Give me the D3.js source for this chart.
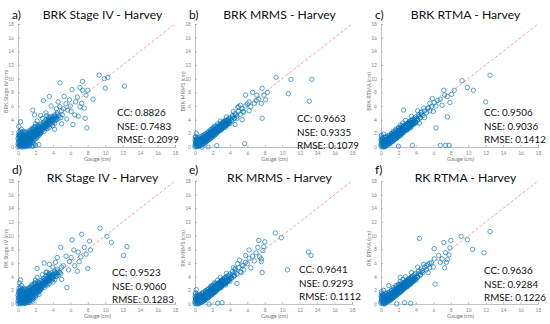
<!DOCTYPE html>
<html>
<head>
<meta charset="utf-8">
<script src="https://cdn.jsdelivr.net/npm/d3@7/dist/d3.min.js"></script>
<style>
  body { margin: 0; background: #fff; }
  svg { display: block; }
</style>
</head>
<body>
<svg id="chart" width="550" height="324"></svg>
<script>
// panel titles / labels
const letters = ["a)", "b)", "c)", "d)", "e)", "f)"];
const titles = ["BRK Stage IV - Harvey", "BRK MRMS - Harvey", "BRK RTMA - Harvey",
                "RK Stage IV - Harvey", "RK MRMS - Harvey", "RK RTMA - Harvey"];
const yLabels = ["BRK Stage IV (cm)", "BRK MRMS (cm)", "BRK RTMA (cm)",
                 "RK Stage IV (cm)", "RK MRMS (cm)", "RK RTMA (cm)"];
const ccVals = ["0.8826", "0.9663", "0.9506", "0.9523", "0.9641", "0.9636"];
const nseVals = ["0.7483", "0.9335", "0.9036", "0.9060", "0.9293", "0.9284"];
const rmseVals = ["0.2099", "0.1079", "0.1412", "0.1283", "0.1112", "0.1226"];
const axisTicks = [0, 2, 4, 6, 8, 10, 12, 14, 16, 18];

// [gauge, estimate] pairs
// dense part near the origin (the solid blob in the picture)
const brkStage4Core = [
  [0,0],[0,0.45],[0.05,0.85],[0,1.25],[0.05,1.7],[0.1,2.2],
  [0.2,0.05],[0.2,0.35],[0.25,0.65],[0.2,0.95],[0.25,1.25],[0.2,1.55],[0.25,1.85],
  [0.4,0.1],[0.45,0.45],[0.4,0.75],[0.45,1.05],[0.4,1.35],[0.45,1.7],[0.4,2.1],
  [0.6,0.2],[0.65,0.5],[0.6,0.85],[0.65,1.15],[0.6,1.45],[0.65,1.8],[0.6,2.3],
  [0.8,0.05],[0.85,0.35],[0.8,0.65],[0.85,0.95],[0.8,1.25],[0.85,1.55],[0.8,1.9],
  [1.0,0.2],[1.05,0.55],[1.0,0.85],[1.05,1.15],[1.0,1.45],[1.05,1.75],[1.0,2.05],
  [1.2,0.1],[1.25,0.45],[1.2,0.75],[1.25,1.05],[1.2,1.35],[1.25,1.65],[1.2,1.95],[1.25,2.3],
  [1.4,0.35],[1.45,0.85],[1.4,1.15],[1.45,1.45],[1.4,1.75],[1.45,2.05],[1.4,2.45],
  [1.6,0.15],[1.65,0.65],[1.6,1.25],[1.65,1.55],[1.6,1.85],[1.65,2.15],[1.6,2.6],
  [1.8,0.45],[1.85,1.05],[1.8,1.45],[1.85,1.75],[1.8,2.05],[1.85,2.35],[1.8,2.8],
  [2.0,0.25],[2.05,1.25],[2.0,1.65],[2.05,1.95],[2.0,2.25],[2.05,2.55],[2.0,3.0],
  [2.2,1.45],[2.25,1.85],[2.2,2.15],[2.25,2.45],[2.2,2.75],[2.25,3.2],
  [2.4,0.35],[2.45,1.75],[2.4,2.05],[2.45,2.35],[2.4,2.65],[2.45,2.95],
  [2.6,2.2],[2.65,2.7],[2.8,2.5],[2.85,3.4],[3.0,3.0],[3.05,3.7],[3.2,2.7],[3.25,3.3],[3.4,3.5],[3.45,4.1],
  [3.6,3.7],[3.65,4.4],[3.8,3.3],[3.85,4.0],[4.0,4.3],[4.05,3.9],[4.2,3.5],[4.25,4.5],[4.4,4.0],[4.5,4.8],
  [2.7,3.0],[3.1,3.2],[3.5,3.9],[3.9,4.1],[4.3,4.2]
];
const brkStage4Fill = [
  [0.1,0.2],[0.1,0.6],[0.1,1.0],[0.1,1.45],[0.15,1.9],
  [0.3,0.2],[0.3,0.5],[0.3,0.8],[0.3,1.1],[0.35,1.4],[0.3,1.7],[0.3,2.3],
  [0.5,0.0],[0.5,0.3],[0.5,0.6],[0.5,0.95],[0.55,1.25],[0.5,1.55],[0.5,1.95],
  [0.7,0.1],[0.7,0.4],[0.7,0.7],[0.7,1.0],[0.75,1.3],[0.7,1.65],[0.7,2.1],
  [0.9,0.25],[0.9,0.5],[0.9,0.8],[0.9,1.1],[0.95,1.4],[0.9,1.7],[0.9,2.2],
  [1.1,0.35],[1.1,0.65],[1.1,0.95],[1.1,1.3],[1.15,1.6],[1.1,1.9],
  [1.3,0.6],[1.3,0.9],[1.3,1.2],[1.35,1.5],[1.3,1.8],[1.3,2.15],
  [1.5,0.7],[1.5,1.05],[1.5,1.35],[1.55,1.65],[1.5,1.95],[1.5,2.3],
  [1.7,1.0],[1.7,1.35],[1.75,1.65],[1.7,1.95],[1.7,2.3],
  [1.9,1.3],[1.9,1.6],[1.95,1.9],[1.9,2.2],[1.9,2.6],
  [2.1,1.6],[2.1,1.9],[2.15,2.3],[2.1,2.6],[2.3,1.9],[2.3,2.2],[2.35,2.5],[2.3,2.9],
  [2.5,2.0],[2.5,2.4],[2.55,2.8],[2.7,2.3],[2.7,2.7],[2.9,2.6],[2.9,3.0],[3.1,2.9],[3.1,3.3],
  [3.3,3.0],[3.3,3.5],[3.5,3.3],[3.5,3.7],[3.7,3.5],[3.7,3.9],[3.9,3.8]
];
const brkStage4 = [
  [0.9,0.1],[1.3,0.2],[1.7,0.15],[0.4,2.6],[0.1,3.0],
  [2.3,2.2],[2.4,3.0],[2.5,2.6],[2.6,3.3],[2.7,2.4],[2.8,3.1],[2.9,3.6],[3.0,2.8],[3.1,3.4],[3.2,4.0],
  [3.3,3.1],[3.4,3.7],[3.5,4.3],[3.6,3.4],[3.7,4.1],[3.8,3.8],[3.9,4.5],[4.0,3.6],[4.1,4.2],[4.2,4.7],
  [4.3,3.9],[4.4,4.4],[4.5,5.0],[4.6,4.1],[2.0,3.4],[2.3,1.6],[2.6,2.0],[3.0,2.3],[3.4,2.7],[1.6,2.7],
  [1.9,3.0],[2.2,3.8],[2.8,4.2],[3.3,4.6],[4.7,4.6],[4.9,4.3],[5.0,5.3],[3.6,2.9],[4.0,3.1],[2.4,2.5],
  [4.8,9.4],[9.3,10.5],[9.9,10.0],[10.3,10.2],[12.2,8.9],[10.0,8.6],[7.4,8.3],[2.9,6.8],[0.3,3.7],[5.9,6.9],
  [5.3,7.4],[6.2,8.4],[7.4,9.6],[7.1,8.7],[8.0,8.3],[7.8,7.6],[8.6,7.0],[7.6,5.7],[7.7,4.2],[7.9,2.8],
  [6.5,4.7],[6.9,4.5],[7.1,5.9],[4.8,5.9],[3.6,7.4],[3.8,6.0],[5.7,5.4],[6.3,3.3],[5.1,4.7],[1.7,5.4],
  [1.9,4.7],[5.5,6.3],[6.0,6.0],[6.6,6.6],[5.2,5.6],[4.4,5.6],[6.8,7.3],[5.0,3.4],[4.2,2.6],[5.6,4.1],
  [6.1,5.2],[7.3,6.4],[4.6,6.6],[3.2,5.0],[2.6,4.6]
];

const brkMrmsCore = [
  [0,0],[0,0.3],[0.05,0.65],[0,1.0],[0.05,1.4],
  [0.2,0.05],[0.25,0.35],[0.2,0.65],[0.25,0.95],[0.2,1.3],
  [0.4,0.1],[0.45,0.4],[0.4,0.7],[0.45,1.0],[0.4,1.35],
  [0.6,0.25],[0.65,0.55],[0.6,0.85],[0.65,1.15],[0.6,1.5],
  [0.8,0.35],[0.85,0.65],[0.8,0.95],[0.85,1.25],[0.8,1.6],
  [1.0,0.5],[1.05,0.8],[1.0,1.1],[1.05,1.4],[1.0,1.75],
  [1.2,0.7],[1.25,1.0],[1.2,1.3],[1.25,1.6],[1.2,1.95],
  [1.4,0.9],[1.45,1.2],[1.4,1.5],[1.45,1.8],[1.4,2.1],
  [1.6,1.1],[1.65,1.4],[1.6,1.7],[1.65,2.0],[1.6,2.3],
  [1.8,1.3],[1.85,1.6],[1.8,1.9],[1.85,2.2],[1.8,2.5],
  [2.0,1.5],[2.05,1.8],[2.0,2.1],[2.05,2.4],[2.0,2.7],
  [2.2,1.7],[2.25,2.0],[2.2,2.3],[2.25,2.6],[2.2,2.9],
  [2.4,1.9],[2.45,2.2],[2.4,2.5],[2.45,2.8],[2.4,3.1],
  [2.6,2.2],[2.65,2.5],[2.6,2.8],[2.65,3.1],[2.8,2.4],[2.85,2.7],[2.8,3.0],[2.85,3.3],
  [3.0,2.6],[3.05,2.9],[3.0,3.2],[3.05,3.5],[3.2,2.8],[3.25,3.1],[3.2,3.4],[3.25,3.7],
  [3.4,3.0],[3.45,3.3],[3.4,3.6],[3.45,3.9],[3.6,3.2],[3.65,3.5],[3.6,3.8],[3.8,3.4],
  [3.85,3.9],[4.0,3.7],[4.05,4.1],[4.2,3.9],[4.3,4.4],[4.5,4.2],[4.6,4.7]
];
const brkMrmsFill = [
  [0.1,0.15],[0.1,0.5],[0.1,0.85],[0.15,1.2],[0.3,0.2],[0.3,0.5],[0.3,0.8],[0.35,1.15],
  [0.5,0.15],[0.5,0.45],[0.5,0.75],[0.55,1.1],[0.7,0.35],[0.7,0.65],[0.7,0.95],[0.75,1.3],
  [0.9,0.45],[0.9,0.75],[0.9,1.05],[0.95,1.35],[1.1,0.6],[1.1,0.9],[1.1,1.2],[1.15,1.5],
  [1.3,0.8],[1.3,1.1],[1.3,1.4],[1.35,1.7],[1.5,1.0],[1.5,1.3],[1.5,1.6],[1.55,1.9],
  [1.7,1.2],[1.7,1.5],[1.7,1.8],[1.75,2.1],[1.9,1.4],[1.9,1.7],[1.9,2.0],[1.95,2.3],
  [2.1,1.6],[2.1,1.9],[2.1,2.2],[2.15,2.5],[2.3,1.8],[2.3,2.1],[2.3,2.4],[2.35,2.7],
  [2.5,2.05],[2.5,2.35],[2.55,2.65],[2.7,2.3],[2.7,2.6],[2.75,2.9],[2.9,2.5],[2.9,2.8],[2.95,3.1],
  [3.1,2.7],[3.1,3.0],[3.15,3.3],[3.3,2.9],[3.3,3.2],[3.35,3.5],[3.5,3.1],[3.5,3.4],[3.7,3.3],[3.7,3.6],[3.9,3.5]
];
const brkMrms = [
  [0.1,0.7],[0.2,1.0],[0.9,1.5],[1.2,1.8],[1.5,2.1],[0.05,1.5],[0.15,2.0],[2.2,2.4],
  [2.3,2.1],[2.4,2.6],[2.5,2.3],[2.6,2.9],[2.7,2.5],[2.8,3.0],[2.9,2.7],[3.0,3.3],[3.1,2.9],[3.2,3.5],
  [3.3,3.1],[3.4,3.7],[3.5,3.3],[3.6,3.9],[3.7,3.5],[3.8,4.1],[3.9,3.7],[4.0,4.3],[4.2,3.9],[4.3,4.6],
  [4.5,4.2],[4.6,4.9],[4.8,4.5],[5.0,5.2],[5.2,4.8],[5.4,5.6],[5.6,5.1],[2.0,2.6],[2.2,3.0],[2.6,3.4],
  [3.0,2.5],[3.5,2.9],[4.0,3.4],[1.8,2.5],[2.9,3.8],[3.6,4.4],[4.4,5.2],[5.8,6.0],[6.2,6.6],[4.9,5.8],
  [9.3,10.2],[11.0,9.9],[13.4,9.9],[10.7,7.8],[13.1,6.7],[7.7,8.6],[7.1,7.6],[6.6,8.0],[8.1,6.9],[7.6,6.4],
  [5.8,7.6],[5.0,5.9],[6.4,5.9],[7.7,4.2],[5.4,4.0],[5.7,0.5],[4.6,3.3],[6.8,6.4],[7.3,7.0],[6.0,6.3],
  [5.5,5.2],[7.9,7.6],[6.2,5.3],[7.0,6.8],[5.2,6.1],[4.8,4.2],[8.3,8.0],[0.8,0.0],[1.5,0.0],[2.5,0.2]
];

const brkRtmaCore = [
  [0,0.05],[0,0.35],[0.05,0.7],[0,1.05],[0.05,1.45],
  [0.2,0.0],[0.25,0.3],[0.2,0.6],[0.25,0.9],[0.2,1.25],
  [0.4,0.15],[0.45,0.45],[0.4,0.75],[0.45,1.05],[0.4,1.4],
  [0.6,0.2],[0.65,0.5],[0.6,0.8],[0.65,1.1],[0.6,1.45],
  [0.8,0.4],[0.85,0.7],[0.8,1.0],[0.85,1.3],[0.8,1.65],
  [1.0,0.45],[1.05,0.75],[1.0,1.05],[1.05,1.35],[1.0,1.7],
  [1.2,0.75],[1.25,1.05],[1.2,1.35],[1.25,1.65],[1.2,2.0],
  [1.4,0.85],[1.45,1.15],[1.4,1.45],[1.45,1.75],[1.4,2.05],
  [1.6,1.15],[1.65,1.45],[1.6,1.75],[1.65,2.05],[1.6,2.35],
  [1.8,1.25],[1.85,1.55],[1.8,1.85],[1.85,2.15],[1.8,2.45],
  [2.0,1.55],[2.05,1.85],[2.0,2.15],[2.05,2.45],[2.0,2.75],
  [2.2,1.65],[2.25,1.95],[2.2,2.25],[2.25,2.55],[2.2,2.85],
  [2.4,1.95],[2.45,2.25],[2.4,2.55],[2.45,2.85],[2.4,3.15],
  [2.6,2.15],[2.65,2.45],[2.6,2.75],[2.65,3.05],[2.8,2.45],[2.85,2.75],[2.8,3.05],[2.85,3.35],
  [3.0,2.55],[3.05,2.85],[3.0,3.15],[3.05,3.45],[3.2,2.85],[3.25,3.15],[3.2,3.45],[3.25,3.75],
  [3.4,2.95],[3.45,3.25],[3.4,3.55],[3.45,3.85],[3.6,3.25],[3.65,3.55],[3.6,3.85],[3.8,3.45],
  [3.85,3.95],[4.0,3.65],[4.05,4.15],[4.2,3.95],[4.3,4.45],[4.5,4.25],[4.6,4.75]
];
const brkRtmaFill = [
  [0.1,0.2],[0.1,0.55],[0.1,0.9],[0.15,1.25],[0.3,0.15],[0.3,0.45],[0.3,0.75],[0.35,1.1],
  [0.5,0.1],[0.5,0.4],[0.5,0.7],[0.55,1.05],[0.7,0.3],[0.7,0.6],[0.7,0.9],[0.75,1.25],
  [0.9,0.5],[0.9,0.8],[0.9,1.1],[0.95,1.4],[1.1,0.65],[1.1,0.95],[1.1,1.25],[1.15,1.55],
  [1.3,0.85],[1.3,1.15],[1.3,1.45],[1.35,1.75],[1.5,1.05],[1.5,1.35],[1.5,1.65],[1.55,1.95],
  [1.7,1.25],[1.7,1.55],[1.7,1.85],[1.75,2.15],[1.9,1.45],[1.9,1.75],[1.9,2.05],[1.95,2.35],
  [2.1,1.65],[2.1,1.95],[2.1,2.25],[2.15,2.55],[2.3,1.85],[2.3,2.15],[2.3,2.45],[2.35,2.75],
  [2.5,2.1],[2.5,2.4],[2.55,2.7],[2.7,2.35],[2.7,2.65],[2.75,2.95],[2.9,2.55],[2.9,2.85],[2.95,3.15],
  [3.1,2.75],[3.1,3.05],[3.15,3.35],[3.3,2.95],[3.3,3.25],[3.35,3.55],[3.5,3.15],[3.5,3.45],[3.7,3.35],[3.7,3.65],[3.9,3.55]
];
const brkRtma = [
  [0.1,0.9],[0.2,1.3],[0.6,1.5],[0.9,1.6],[1.2,1.9],[1.4,2.3],[0.4,0.0],[0.05,1.7],[0.3,1.9],[2.2,2.5],
  [2.3,2.0],[2.4,2.7],[2.5,2.4],[2.6,3.0],[2.7,2.6],[2.8,3.2],[2.9,2.8],[3.0,3.4],[3.1,3.0],[3.2,3.6],
  [3.3,3.2],[3.4,3.8],[3.5,3.4],[3.6,4.0],[3.7,3.6],[3.8,4.2],[3.9,3.8],[4.0,4.4],[4.2,4.0],[4.3,4.7],
  [4.5,4.3],[4.6,5.0],[4.8,4.6],[5.0,5.3],[5.2,5.0],[5.4,5.7],[5.6,5.3],[2.0,2.8],[2.2,3.2],[2.5,3.5],
  [3.0,2.5],[3.4,2.8],[4.0,3.5],[1.7,2.6],[2.8,3.9],[3.5,4.5],[4.2,5.3],[5.8,5.9],[6.1,6.5],[4.9,5.7],
  [12.5,10.5],[9.3,9.7],[9.9,8.7],[10.6,8.3],[8.4,8.3],[8.1,7.7],[7.2,8.3],[7.6,7.4],[5.9,7.1],[6.3,6.0],
  [7.9,6.5],[12.0,6.6],[7.6,4.4],[6.3,2.8],[3.6,0.25],[7.4,0.25],[7.8,0.25],[6.8,0.25],[2.6,5.4],[6.8,7.0],
  [7.0,6.1],[5.4,5.7],[6.0,5.2],[5.0,4.3],[4.6,5.1],[7.3,7.6],[6.5,6.8],[2.0,0.1],[4.4,3.5],[5.6,6.4]
];

const rkStage4Core = [
  [0,0.05],[0,0.45],[0.05,0.9],[0,1.3],[0.05,1.75],[0.1,2.3],
  [0.2,0.0],[0.2,0.4],[0.25,0.7],[0.2,1.0],[0.25,1.3],[0.2,1.6],[0.25,1.95],
  [0.4,0.15],[0.45,0.5],[0.4,0.8],[0.45,1.1],[0.4,1.4],[0.45,1.75],[0.4,2.15],
  [0.6,0.25],[0.65,0.55],[0.6,0.9],[0.65,1.2],[0.6,1.5],[0.65,1.85],[0.6,2.35],
  [0.8,0.1],[0.85,0.4],[0.8,0.7],[0.85,1.0],[0.8,1.3],[0.85,1.6],[0.8,1.95],
  [1.0,0.25],[1.05,0.6],[1.0,0.9],[1.05,1.2],[1.0,1.5],[1.05,1.8],[1.0,2.1],
  [1.2,0.2],[1.25,0.5],[1.2,0.8],[1.25,1.1],[1.2,1.4],[1.25,1.7],[1.2,2.0],[1.25,2.35],
  [1.4,0.45],[1.45,0.9],[1.4,1.2],[1.45,1.5],[1.4,1.8],[1.45,2.1],[1.4,2.5],
  [1.6,0.6],[1.65,0.95],[1.6,1.3],[1.65,1.6],[1.6,1.9],[1.65,2.2],[1.6,2.65],
  [1.8,0.8],[1.85,1.1],[1.8,1.5],[1.85,1.8],[1.8,2.1],[1.85,2.4],[1.8,2.85],
  [2.0,1.0],[2.05,1.3],[2.0,1.7],[2.05,2.0],[2.0,2.3],[2.05,2.6],[2.0,3.05],
  [2.2,1.5],[2.25,1.9],[2.2,2.2],[2.25,2.5],[2.2,2.8],[2.25,3.25],
  [2.4,1.4],[2.45,1.8],[2.4,2.1],[2.45,2.4],[2.4,2.7],[2.45,3.0],
  [2.6,2.25],[2.65,2.75],[2.8,2.55],[2.85,3.45],[3.0,3.05],[3.05,3.75],[3.2,2.75],[3.25,3.35],[3.4,3.55],[3.45,4.15],
  [3.6,3.75],[3.65,4.45],[3.8,3.35],[3.85,4.05],[4.0,4.35],[4.05,3.95],[4.2,3.55],[4.25,4.55],[4.4,4.05],[4.5,4.85],
  [2.7,3.05],[3.1,3.25],[3.5,3.95],[3.9,4.15],[4.3,4.25]
];
const rkStage4Fill = [
  [0.1,0.25],[0.1,0.65],[0.1,1.05],[0.1,1.5],[0.15,1.95],
  [0.3,0.15],[0.3,0.55],[0.3,0.85],[0.3,1.15],[0.35,1.45],[0.3,1.75],[0.3,2.35],
  [0.5,0.05],[0.5,0.35],[0.5,0.65],[0.5,1.0],[0.55,1.3],[0.5,1.6],[0.5,2.0],
  [0.7,0.15],[0.7,0.45],[0.7,0.75],[0.7,1.05],[0.75,1.35],[0.7,1.7],[0.7,2.15],
  [0.9,0.3],[0.9,0.55],[0.9,0.85],[0.9,1.15],[0.95,1.45],[0.9,1.75],[0.9,2.25],
  [1.1,0.4],[1.1,0.7],[1.1,1.0],[1.1,1.35],[1.15,1.65],[1.1,1.95],
  [1.3,0.65],[1.3,0.95],[1.3,1.25],[1.35,1.55],[1.3,1.85],[1.3,2.2],
  [1.5,0.75],[1.5,1.1],[1.5,1.4],[1.55,1.7],[1.5,2.0],[1.5,2.35],
  [1.7,1.05],[1.7,1.4],[1.75,1.7],[1.7,2.0],[1.7,2.35],
  [1.9,1.35],[1.9,1.65],[1.95,1.95],[1.9,2.25],[1.9,2.65],
  [2.1,1.65],[2.1,1.95],[2.15,2.35],[2.1,2.65],[2.3,1.95],[2.3,2.25],[2.35,2.55],[2.3,2.95],
  [2.5,2.05],[2.5,2.45],[2.55,2.85],[2.7,2.35],[2.7,2.75],[2.9,2.65],[2.9,3.05],[3.1,2.95],[3.1,3.35],
  [3.3,3.05],[3.3,3.55],[3.5,3.35],[3.5,3.75],[3.7,3.55],[3.7,3.95],[3.9,3.85]
];
const rkStage4 = [
  [0.9,0.15],[1.3,0.3],[1.7,0.4],[0.4,2.7],[0.15,3.1],
  [2.3,2.3],[2.4,3.1],[2.5,2.7],[2.6,3.4],[2.7,2.5],[2.8,3.2],[2.9,3.7],[3.0,2.9],[3.1,3.5],[3.2,4.1],
  [3.3,3.2],[3.4,3.8],[3.5,4.4],[3.6,3.5],[3.7,4.2],[3.8,3.9],[3.9,4.6],[4.0,3.7],[4.1,4.3],[4.2,4.8],
  [4.3,4.0],[4.4,4.5],[4.5,5.1],[4.6,4.2],[2.0,3.5],[2.3,1.8],[2.6,2.1],[3.0,2.4],[3.4,2.8],[1.6,2.8],
  [1.9,3.1],[2.2,3.9],[2.8,4.3],[3.3,4.7],[4.7,4.7],[4.9,4.4],[5.0,5.4],[3.6,3.0],[4.0,3.2],[2.4,2.6],
  [9.4,11.1],[7.3,10.2],[10.2,9.9],[10.7,9.0],[6.2,9.4],[8.2,9.2],[4.9,8.3],[12.5,8.4],[12.1,7.1],[7.6,8.3],
  [6.9,7.6],[7.8,7.3],[6.5,5.6],[8.0,5.2],[5.6,2.4],[0.3,3.5],[2.2,5.2],[4.5,6.8],[5.5,7.0],[5.9,6.2],
  [7.2,6.9],[6.4,7.9],[4.0,5.4],[5.2,5.6],[3.6,5.8],[4.8,4.6],[6.8,4.8],[7.0,6.2],[5.0,3.6],[3.2,4.6],
  [8.3,7.9],[3.0,6.0],[5.8,5.0],[6.1,6.8],[4.3,6.1]
];

const rkMrmsCore = [
  [0,0.05],[0,0.35],[0.05,0.7],[0,1.05],[0.05,1.45],
  [0.2,0.0],[0.25,0.3],[0.2,0.6],[0.25,0.9],[0.2,1.25],
  [0.4,0.05],[0.45,0.35],[0.4,0.65],[0.45,0.95],[0.4,1.3],
  [0.6,0.2],[0.65,0.5],[0.6,0.8],[0.65,1.1],[0.6,1.45],
  [0.8,0.3],[0.85,0.6],[0.8,0.9],[0.85,1.2],[0.8,1.55],
  [1.0,0.45],[1.05,0.75],[1.0,1.05],[1.05,1.35],[1.0,1.7],
  [1.2,0.65],[1.25,0.95],[1.2,1.25],[1.25,1.55],[1.2,1.9],
  [1.4,0.85],[1.45,1.15],[1.4,1.45],[1.45,1.75],[1.4,2.05],
  [1.6,1.05],[1.65,1.35],[1.6,1.65],[1.65,1.95],[1.6,2.25],
  [1.8,1.25],[1.85,1.55],[1.8,1.85],[1.85,2.15],[1.8,2.45],
  [2.0,1.45],[2.05,1.75],[2.0,2.05],[2.05,2.35],[2.0,2.65],
  [2.2,1.65],[2.25,1.95],[2.2,2.25],[2.25,2.55],[2.2,2.85],
  [2.4,1.85],[2.45,2.15],[2.4,2.45],[2.45,2.75],[2.4,3.05],
  [2.6,2.15],[2.65,2.45],[2.6,2.75],[2.65,3.05],[2.8,2.35],[2.85,2.65],[2.8,2.95],[2.85,3.25],
  [3.0,2.55],[3.05,2.85],[3.0,3.15],[3.05,3.45],[3.2,2.75],[3.25,3.05],[3.2,3.35],[3.25,3.65],
  [3.4,2.95],[3.45,3.25],[3.4,3.55],[3.45,3.85],[3.6,3.15],[3.65,3.45],[3.6,3.75],[3.8,3.35],
  [3.85,3.85],[4.0,3.65],[4.05,4.05],[4.2,3.85],[4.3,4.35],[4.5,4.15],[4.6,4.65]
];
const rkMrmsFill = [
  [0.1,0.15],[0.1,0.5],[0.1,0.85],[0.15,1.2],[0.3,0.15],[0.3,0.45],[0.3,0.75],[0.35,1.1],
  [0.5,0.1],[0.5,0.4],[0.5,0.7],[0.55,1.05],[0.7,0.3],[0.7,0.6],[0.7,0.9],[0.75,1.25],
  [0.9,0.4],[0.9,0.7],[0.9,1.0],[0.95,1.3],[1.1,0.55],[1.1,0.85],[1.1,1.15],[1.15,1.45],
  [1.3,0.75],[1.3,1.05],[1.3,1.35],[1.35,1.65],[1.5,0.95],[1.5,1.25],[1.5,1.55],[1.55,1.85],
  [1.7,1.15],[1.7,1.45],[1.7,1.75],[1.75,2.05],[1.9,1.35],[1.9,1.65],[1.9,1.95],[1.95,2.25],
  [2.1,1.55],[2.1,1.85],[2.1,2.15],[2.15,2.45],[2.3,1.75],[2.3,2.05],[2.3,2.35],[2.35,2.65],
  [2.5,2.0],[2.5,2.3],[2.55,2.6],[2.7,2.25],[2.7,2.55],[2.75,2.85],[2.9,2.45],[2.9,2.75],[2.95,3.05],
  [3.1,2.65],[3.1,2.95],[3.15,3.25],[3.3,2.85],[3.3,3.15],[3.35,3.45],[3.5,3.05],[3.5,3.35],[3.7,3.25],[3.7,3.55],[3.9,3.45]
];
const rkMrms = [
  [0.1,0.8],[0.2,1.1],[0.6,1.4],[0.9,1.6],[1.2,1.9],[1.5,2.2],[0.05,1.6],[0.15,2.1],[2.2,2.5],
  [2.3,2.0],[2.4,2.7],[2.5,2.2],[2.6,3.0],[2.7,2.4],[2.8,3.1],[2.9,2.6],[3.0,3.4],[3.1,2.8],[3.2,3.6],
  [3.3,3.0],[3.4,3.8],[3.5,3.2],[3.6,4.0],[3.7,3.4],[3.8,4.2],[3.9,3.6],[4.0,4.4],[4.2,3.8],[4.3,4.7],
  [4.5,4.1],[4.6,5.0],[4.8,4.4],[5.0,5.3],[5.2,4.7],[5.4,5.7],[5.6,5.0],[2.0,2.7],[2.2,3.1],[2.6,3.5],
  [3.0,2.4],[3.5,2.8],[4.0,3.3],[1.8,2.6],[2.9,3.9],[3.6,4.5],[4.4,5.3],[5.8,6.1],[6.2,6.7],[4.9,5.9],
  [9.2,10.4],[9.9,9.7],[7.3,9.3],[8.0,9.1],[7.2,8.3],[6.2,7.9],[7.0,7.5],[7.9,8.4],[7.6,6.6],[13.0,7.6],
  [13.3,7.1],[10.6,5.0],[7.7,4.6],[6.4,5.3],[4.8,3.0],[5.8,7.1],[5.1,6.4],[6.8,6.3],[7.4,6.9],[6.0,5.9],
  [5.5,5.6],[7.6,6.2],[6.6,7.0],[4.6,5.2],[5.3,4.6],[7.8,7.8],[4.4,4.1],[2.6,0.1],[1.6,0.0],[3.1,0.2]
];

const rkRtmaCore = [
  [0,0.1],[0,0.4],[0.05,0.75],[0,1.1],[0.05,1.5],
  [0.2,0.05],[0.25,0.35],[0.2,0.65],[0.25,0.95],[0.2,1.3],
  [0.4,0.1],[0.45,0.4],[0.4,0.7],[0.45,1.0],[0.4,1.35],
  [0.6,0.25],[0.65,0.55],[0.6,0.85],[0.65,1.15],[0.6,1.5],
  [0.8,0.35],[0.85,0.65],[0.8,0.95],[0.85,1.25],[0.8,1.6],
  [1.0,0.5],[1.05,0.8],[1.0,1.1],[1.05,1.4],[1.0,1.75],
  [1.2,0.7],[1.25,1.0],[1.2,1.3],[1.25,1.6],[1.2,1.95],
  [1.4,0.9],[1.45,1.2],[1.4,1.5],[1.45,1.8],[1.4,2.1],
  [1.6,1.1],[1.65,1.4],[1.6,1.7],[1.65,2.0],[1.6,2.3],
  [1.8,1.3],[1.85,1.6],[1.8,1.9],[1.85,2.2],[1.8,2.5],
  [2.0,1.5],[2.05,1.8],[2.0,2.1],[2.05,2.4],[2.0,2.7],
  [2.2,1.7],[2.25,2.0],[2.2,2.3],[2.25,2.6],[2.2,2.9],
  [2.4,1.9],[2.45,2.2],[2.4,2.5],[2.45,2.8],[2.4,3.1],
  [2.6,2.2],[2.65,2.5],[2.6,2.8],[2.65,3.1],[2.8,2.4],[2.85,2.7],[2.8,3.0],[2.85,3.3],
  [3.0,2.6],[3.05,2.9],[3.0,3.2],[3.05,3.5],[3.2,2.8],[3.25,3.1],[3.2,3.4],[3.25,3.7],
  [3.4,3.0],[3.45,3.3],[3.4,3.6],[3.45,3.9],[3.6,3.2],[3.65,3.5],[3.6,3.8],[3.8,3.4],
  [3.85,3.9],[4.0,3.7],[4.05,4.1],[4.2,3.9],[4.3,4.4],[4.5,4.2],[4.6,4.7]
];
const rkRtmaFill = [
  [0.1,0.25],[0.1,0.6],[0.1,0.95],[0.15,1.3],[0.3,0.2],[0.3,0.5],[0.3,0.8],[0.35,1.15],
  [0.5,0.15],[0.5,0.45],[0.5,0.75],[0.55,1.1],[0.7,0.35],[0.7,0.65],[0.7,0.95],[0.75,1.3],
  [0.9,0.5],[0.9,0.8],[0.9,1.1],[0.95,1.4],[1.1,0.65],[1.1,0.95],[1.1,1.25],[1.15,1.55],
  [1.3,0.85],[1.3,1.15],[1.3,1.45],[1.35,1.75],[1.5,1.05],[1.5,1.35],[1.5,1.65],[1.55,1.95],
  [1.7,1.25],[1.7,1.55],[1.7,1.85],[1.75,2.15],[1.9,1.45],[1.9,1.75],[1.9,2.05],[1.95,2.35],
  [2.1,1.65],[2.1,1.95],[2.1,2.25],[2.15,2.55],[2.3,1.85],[2.3,2.15],[2.3,2.45],[2.35,2.75],
  [2.5,2.1],[2.5,2.4],[2.55,2.7],[2.7,2.35],[2.7,2.65],[2.75,2.95],[2.9,2.55],[2.9,2.85],[2.95,3.15],
  [3.1,2.75],[3.1,3.05],[3.15,3.35],[3.3,2.95],[3.3,3.25],[3.35,3.55],[3.5,3.15],[3.5,3.45],[3.7,3.35],[3.7,3.65],[3.9,3.55]
];
const rkRtma = [
  [0.1,1.0],[0.2,1.4],[0.6,1.6],[0.9,1.7],[1.2,2.0],[1.4,2.4],[0.4,0.0],[0.05,1.8],[0.3,2.0],[2.2,2.6],
  [2.3,2.1],[2.4,2.8],[2.5,2.4],[2.6,3.1],[2.7,2.6],[2.8,3.3],[2.9,2.8],[3.0,3.5],[3.1,3.0],[3.2,3.7],
  [3.3,3.2],[3.4,3.9],[3.5,3.4],[3.6,4.1],[3.7,3.6],[3.8,4.3],[3.9,3.8],[4.0,4.5],[4.2,4.0],[4.3,4.8],
  [4.5,4.3],[4.6,5.1],[4.8,4.6],[5.0,5.4],[5.2,5.0],[5.4,5.8],[5.6,5.3],[2.0,2.9],[2.2,3.3],[2.5,3.6],
  [3.0,2.5],[3.4,2.9],[4.0,3.5],[1.7,2.7],[2.8,4.0],[3.5,4.6],[4.2,5.4],[5.8,6.0],[6.1,6.6],[4.9,5.8],
  [12.5,10.6],[4.4,9.6],[9.2,9.9],[9.9,9.4],[8.0,9.3],[7.2,9.0],[10.5,8.0],[11.8,7.5],[6.1,8.1],[7.4,7.5],
  [7.8,7.2],[7.5,6.1],[7.3,5.3],[6.2,2.9],[2.2,3.9],[0.9,2.7],[7.0,6.6],[6.6,7.1],[5.6,6.0],[6.0,5.4],
  [5.2,5.6],[7.6,6.5],[4.8,4.9],[6.8,6.1],[5.4,4.6],[7.9,8.2],[3.4,0.1],[1.8,0.0],[2.7,0.2]
];

const panelData = [
  brkStage4Core.concat(brkStage4Fill, brkStage4), brkMrmsCore.concat(brkMrmsFill, brkMrms),
  brkRtmaCore.concat(brkRtmaFill, brkRtma), rkStage4Core.concat(rkStage4Fill, rkStage4),
  rkMrmsCore.concat(rkMrmsFill, rkMrms), rkRtmaCore.concat(rkRtmaFill, rkRtma)
];

// layout
const colX = [18, 195, 381];
const rowTop = [24, 181];
const plotW = 157, plotH = 123;
const statX = [117, 297, 484, 112, 299, 484];
const statY = [116, 122, 116, 276, 273, 274];

const svg = d3.select("#chart");
const font = "Lato, 'Open Sans', sans-serif";

panelData.forEach(function(pts, i){
  const x0 = colX[i % 3];
  const top = rowTop[Math.floor(i / 3)];
  const x = d3.scaleLinear().domain([0, 18]).range([x0, x0 + plotW]);
  const y = d3.scaleLinear().domain([0, 18]).range([top + plotH, top]);
  const g = svg.append("g");

  // axes, matlab style ticks pointing in
  const xa = g.append("g").attr("transform", "translate(0," + (top + plotH) + ")")
    .call(d3.axisBottom(x).tickValues(axisTicks).tickSize(-2).tickPadding(4));
  const ya = g.append("g").attr("transform", "translate(" + x0 + ",0)")
    .call(d3.axisLeft(y).tickValues(axisTicks).tickSize(-2).tickPadding(4));
  [xa, ya].forEach(function(a){
    a.selectAll("path,line").attr("stroke", "#9a9a9a").attr("stroke-width", 0.6);
    a.selectAll("text").attr("fill", "#8a8a8a").style("font-size", "5px").style("font-family", font);
  });

  // 1:1 line
  g.append("line")
    .attr("x1", x(0)).attr("y1", y(0)).attr("x2", x(18)).attr("y2", y(18))
    .attr("stroke", "#f08a8a").attr("stroke-width", 0.8).attr("stroke-dasharray", "3,2");

  g.append("g").selectAll("circle").data(pts).enter().append("circle")
    .attr("cx", d => x(d[0])).attr("cy", d => y(d[1])).attr("r", 2.2)
    .attr("fill", "none").attr("stroke", "#0072bd").attr("stroke-width", 0.65);

  // labels
  g.append("text").attr("x", x0 + plotW / 2 + 1).attr("y", top + plotH + 14)
    .attr("text-anchor", "middle").attr("fill", "#777").style("font-size", "5.5px")
    .style("font-family", font).text("Gauge (cm)");
  g.append("text").attr("transform", "translate(" + (x0 - 10) + "," + (top + plotH / 2 + 6) + ") rotate(-90)")
    .attr("text-anchor", "middle").attr("fill", "#777").style("font-size", "5.5px")
    .style("font-family", font).text(yLabels[i]);

  g.append("text").attr("x", x0 + plotW / 2 + 6).attr("y", i < 3 ? 19 : 182)
    .attr("text-anchor", "middle").attr("fill", "#111").style("font-size", "12.2px")
    .style("font-family", font).text(titles[i]);
  g.append("text").attr("x", x0 - 6).attr("y", i < 3 ? 19 : 174)
    .attr("fill", "#111").style("font-size", "12px").style("font-family", font).text(letters[i]);

  const st = g.append("text").attr("fill", "#111").style("font-size", "9.8px").style("font-family", font);
  ["CC: " + ccVals[i], "NSE: " + nseVals[i], "RMSE: " + rmseVals[i]].forEach(function(s, k){
    st.append("tspan").attr("x", statX[i]).attr("y", statY[i] + k * 13.5).text(s);
  });
});
</script>
</body>
</html>
